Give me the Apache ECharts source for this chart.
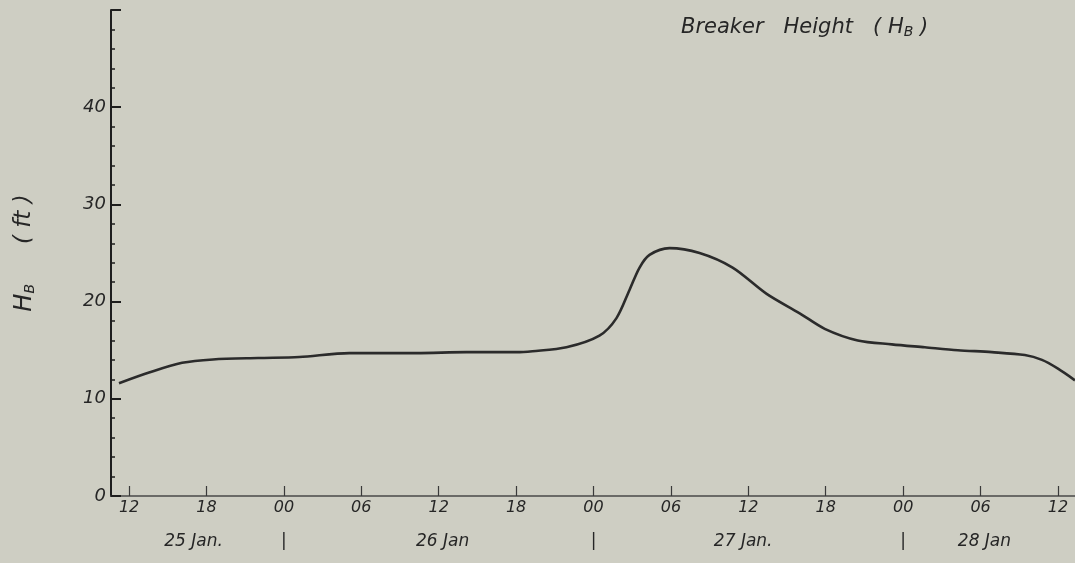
<!DOCTYPE html>
<html>
<head>
<meta charset="utf-8">
<script src="https://cdn.jsdelivr.net/npm/echarts@6/dist/echarts.min.js"></script>
<style>
  html, body { margin: 0; padding: 0; background: #cecec3; }
  #chart { width: 1075px; height: 563px; }
</style>
</head>
<body>
<div id="chart"></div>
<script>
// hours counted from 25 Jan 12:00
const hours = [-0.78, 1.55, 4.11, 6.5, 10.0, 13.19, 17.07, 22.27, 26.14, 30.02, 31.27, 33.9,
  36.46, 37.78, 38.79, 39.57, 40.34, 41.89, 44.22, 46.78, 49.42, 51.98, 53.92, 56.48, 59.12,
  61.68, 64.24, 66.87, 69.43, 70.76, 72.0, 73.32];
const breakerHeight = [11.6, 12.7, 13.7, 14.05, 14.2, 14.3, 14.7, 14.7, 14.8, 14.8, 14.9, 15.3,
  16.5, 18.3, 21.2, 23.5, 24.8, 25.5, 25.0, 23.5, 20.8, 18.8, 17.2, 16.0, 15.6,
  15.3, 15.0, 14.8, 14.5, 14.0, 13.1, 11.9];

const tickHours = [0, 6, 12, 18, 24, 30, 36, 42, 48, 54, 60, 66, 72];
const tickText = ['12', '18', '00', '06', '12', '18', '00', '06', '12', '18', '00', '06', '12'];

const dayPos = [5.0, 12, 24.3, 36, 47.6, 60, 66.3];
const dayText = ['25 Jan.', '|', '26 Jan', '|', '27 Jan.', '|', '28 Jan'];

const yTicks = [0, 10, 20, 30, 40];

const ink = '#262626';
const font = 'DejaVu Sans';

const chart = echarts.init(document.getElementById('chart'), null, { renderer: 'canvas' });

const option = {
  backgroundColor: '#cecec3',
  animation: false,
  title: {
    text: '{a|Breaker   Height   ( H}{s|B}{a| )}',
    left: 676,
    top: 11,
    textStyle: {
      fontWeight: 'normal',
      rich: {
        a: { fontFamily: font, fontStyle: 'italic', fontWeight: 'normal', fontSize: 21, color: ink },
        s: { fontFamily: font, fontStyle: 'italic', fontWeight: 'normal', fontSize: 14, color: ink, verticalAlign: 'bottom', padding: [9, 0, 0, 0] }
      }
    }
  },
  grid: {
    left: 111,
    right: 0,
    top: 10,
    bottom: 67,
    containLabel: false,
    outerBoundsMode: 'none'
  },
  xAxis: [
    {
      type: 'value',
      min: -1.4,
      max: 73.32,
      splitLine: { show: false },
      axisLine: { show: true, onZero: false, lineStyle: { color: '#4a4a4a', width: 1.6 } },
      axisTick: { show: true, inside: true, length: 10, customValues: tickHours, lineStyle: { color: '#3a3a3a', width: 1.2 } },
      axisLabel: {
        customValues: tickHours,
        margin: 4,
        fontFamily: font,
        fontStyle: 'italic',
        fontSize: 16,
        color: ink,
        formatter: (v) => tickText[tickHours.indexOf(v)] ?? ''
      }
    },
    {
      type: 'value',
      position: 'bottom',
      min: -1.4,
      max: 73.32,
      splitLine: { show: false },
      axisLine: { show: false },
      axisTick: { show: false },
      axisLabel: {
        customValues: dayPos,
        margin: 37,
        fontFamily: font,
        fontStyle: 'italic',
        fontSize: 17,
        color: ink,
        formatter: (v) => dayText[dayPos.indexOf(v)] ?? ''
      }
    }
  ],
  yAxis: {
    type: 'value',
    min: 0,
    max: 50,
    interval: 10,
    name: '{h|H}{s|B}            {a|( ft )}',
    nameLocation: 'middle',
    nameRotate: 90,
    nameGap: 74,
    nameTextStyle: {
      padding: [0, 0, 0, 0],
      rich: {
        h: { fontFamily: font, fontStyle: 'italic', fontSize: 24, color: ink },
        s: { fontFamily: font, fontStyle: 'italic', fontSize: 14, color: ink, verticalAlign: 'bottom', padding: [11, 0, 0, 0] },
        a: { fontFamily: font, fontStyle: 'italic', fontSize: 23, color: ink }
      }
    },
    splitLine: { show: false },
    axisLine: { show: true, onZero: false, lineStyle: { color: '#1e1e1e', width: 2 } },
    axisTick: { show: true, inside: true, length: 10, lineStyle: { color: '#1e1e1e', width: 2 } },
    minorTick: { show: true, splitNumber: 5, length: 4, lineStyle: { color: '#1e1e1e', width: 1.5 } },
    axisLabel: {
      margin: 5,
      fontFamily: font,
      fontStyle: 'italic',
      fontSize: 18,
      color: ink,
      formatter: (v) => (yTicks.includes(v) ? String(v) : '')
    }
  },
  series: [
    {
      name: 'Breaker Height',
      type: 'line',
      xAxisIndex: 0,
      data: hours.map((h, i) => [h, breakerHeight[i]]),
      smooth: 0.3,
      showSymbol: false,
      clip: false,
      lineStyle: { color: '#2b2b2b', width: 2.6 }
    }
  ]
};

chart.setOption(option);
</script>
</body>
</html>
